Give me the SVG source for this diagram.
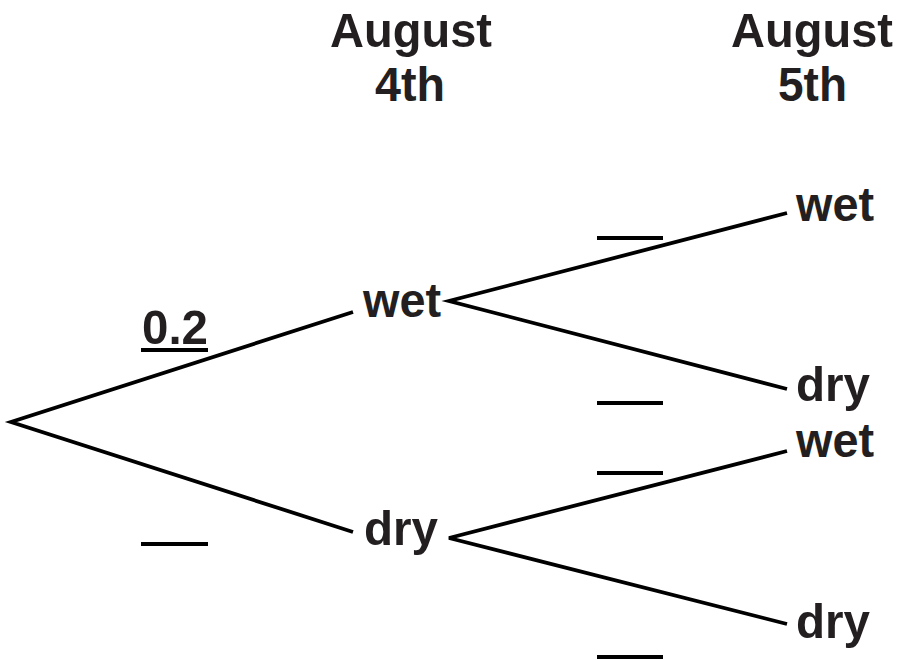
<svg xmlns="http://www.w3.org/2000/svg" width="899" height="660" viewBox="0 0 899 660">
  <style>
    text { font-family: "Liberation Sans", Arial, sans-serif; font-weight: bold; font-size: 49px; fill: #231f20; }
    .mid { text-anchor: middle; }
    .edge { stroke: #000; stroke-width: 3.8; fill: none; stroke-linecap: butt; stroke-linejoin: miter; }
    .blank { stroke: #000; stroke-width: 3.8; }
  </style>
  <rect width="899" height="660" fill="#fff"/>

  <!-- column headings -->
  <g id="heading-day1">
    <text x="330" y="47" textLength="162" lengthAdjust="spacingAndGlyphs">August</text>
    <text x="375" y="101" textLength="70" lengthAdjust="spacingAndGlyphs">4th</text>
  </g>
  <g id="heading-day2">
    <text x="731" y="47" textLength="162" lengthAdjust="spacingAndGlyphs">August</text>
    <text x="778" y="101" textLength="69" lengthAdjust="spacingAndGlyphs">5th</text>
  </g>

  <!-- branches -->
  <g id="connectors">
    <path class="edge" d="M353 312 L11 422 L353 532"/>
    <path class="edge" d="M787 213 L449 301 L787 389"/>
    <path class="edge" d="M787 451 L449 538 L787 624"/>
  </g>

  <!-- outcomes -->
  <g id="n-wet4"><text x="363" y="317" textLength="78" lengthAdjust="spacingAndGlyphs">wet</text></g>
  <g id="n-dry4"><text x="364" y="545" textLength="74" lengthAdjust="spacingAndGlyphs">dry</text></g>
  <g id="n-wet5a"><text x="796" y="221" textLength="78" lengthAdjust="spacingAndGlyphs">wet</text></g>
  <g id="n-dry5a"><text x="796" y="401" textLength="74" lengthAdjust="spacingAndGlyphs">dry</text></g>
  <g id="n-wet5b"><text x="796" y="457" textLength="78" lengthAdjust="spacingAndGlyphs">wet</text></g>
  <g id="n-dry5b"><text x="796" y="638" textLength="74" lengthAdjust="spacingAndGlyphs">dry</text></g>

  <!-- probabilities -->
  <g id="p-wet4">
    <text x="142" y="344" textLength="66" lengthAdjust="spacingAndGlyphs">0.2</text>
    <line class="blank" x1="141" y1="350" x2="208" y2="350"/>
  </g>
  <g id="p-dry4"><line class="blank" x1="141" y1="544" x2="208" y2="544"/></g>
  <g id="p-wet5a"><line class="blank" x1="597" y1="238" x2="663" y2="238"/></g>
  <g id="p-dry5a"><line class="blank" x1="597" y1="403" x2="663" y2="403"/></g>
  <g id="p-wet5b"><line class="blank" x1="597" y1="473" x2="663" y2="473"/></g>
  <g id="p-dry5b"><line class="blank" x1="597" y1="657" x2="663" y2="657"/></g>
</svg>
